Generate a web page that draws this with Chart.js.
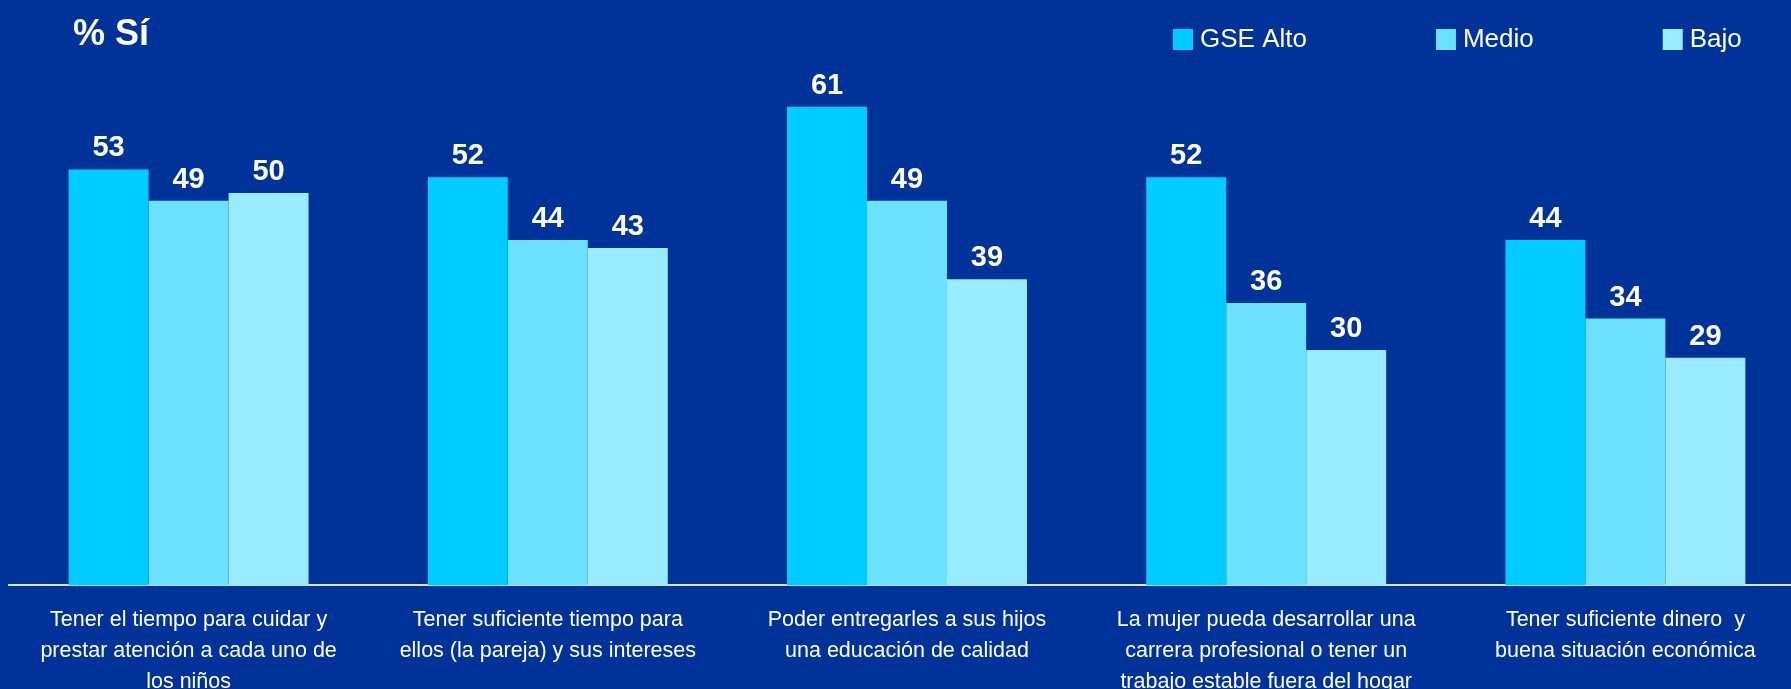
<!DOCTYPE html>
<html>
<head>
<meta charset="utf-8">
<script src="https://cdn.jsdelivr.net/npm/chart.js@4/dist/chart.umd.min.js"></script>
<style>
    html, body { margin: 0; padding: 0; background: #003399; }
    #wrap { position: relative; width: 1791px; height: 689px; overflow: hidden; background: #003399; }
    #chart_box { position: absolute; left: 0; top: 0; width: 1815px; height: 717px; }
</style>
</head>
<body>
<div id="wrap">
    <div id="chart_box"><canvas id="si_chart"></canvas></div>
</div>
<script>
const categories = [
    ['Tener el tiempo para cuidar y', 'prestar atención a cada uno de', 'los niños'],
    ['Tener suficiente tiempo para', 'ellos (la pareja) y sus intereses'],
    ['Poder entregarles a sus hijos', 'una educación de calidad'],
    ['La mujer pueda desarrollar una', 'carrera profesional o tener un', 'trabajo estable fuera del hogar'],
    ['Tener suficiente dinero  y', 'buena situación económica']
];
const seriesNames = ['GSE Alto', 'Medio', 'Bajo'];
const alto = [53, 52, 61, 52, 44];
const medio = [49, 44, 49, 36, 34];
const bajo = [50, 43, 39, 30, 29];
const barColors = ['#00ccff', '#6be0ff', '#99ecff'];

const FONT = 'Arial, "Liberation Sans", sans-serif';

// value labels above each bar
const valueLabels = {
    id: 'valueLabels',
    afterDatasetsDraw(chart) {
        const ctx = chart.ctx;
        ctx.save();
        ctx.fillStyle = '#ffffff';
        ctx.font = 'bold 29px ' + FONT;
        ctx.textAlign = 'center';
        ctx.textBaseline = 'alphabetic';
        chart.data.datasets.forEach((ds, i) => {
            chart.getDatasetMeta(i).data.forEach((bar, j) => {
                ctx.fillText(ds.data[j], bar.x, bar.y - 13);
            });
        });
        ctx.restore();
    }
};

// title and legend in the top band
const topBand = {
    id: 'topBand',
    afterDraw(chart) {
        const ctx = chart.ctx;
        ctx.save();
        ctx.fillStyle = '#ffffff';
        ctx.font = 'bold 36px ' + FONT;
        ctx.textBaseline = 'alphabetic';
        ctx.fillText('% Sí', 73, 45);

        ctx.font = '26px ' + FONT;
        ctx.textBaseline = 'middle';
        let x = 1173;
        chart.data.datasets.forEach(ds => {
            ctx.fillStyle = ds.backgroundColor;
            ctx.fillRect(x, 29, 20, 21);
            ctx.fillStyle = '#ffffff';
            ctx.fillText(ds.label, x + 27, 40);
            x += 27 + ctx.measureText(ds.label).width + 129;
        });
        ctx.restore();
    }
};

new Chart(document.getElementById('si_chart').getContext('2d'), {
    type: 'bar',
    data: {
        labels: categories,
        datasets: [alto, medio, bajo].map((values, i) => ({
            label: seriesNames[i],
            data: values,
            backgroundColor: barColors[i],
            borderWidth: 0,
            barPercentage: 1,
            categoryPercentage: 0.668
        }))
    },
    options: {
        responsive: true,
        maintainAspectRatio: false,
        animation: false,
        layout: {
            padding: { left: 9, right: 10, top: 36, bottom: 0 }
        },
        plugins: {
            legend: { display: false },
            tooltip: { enabled: false }
        },
        scales: {
            x: {
                grid: { display: false, drawTicks: false },
                border: { display: true, color: '#dde4f5', width: 2 },
                ticks: {
                    color: '#ffffff',
                    font: { family: FONT, size: 21.5, lineHeight: 1.45 },
                    padding: 19,
                    maxRotation: 0,
                    autoSkip: false
                }
            },
            y: {
                display: false,
                min: 0,
                max: 70
            }
        }
    },
    plugins: [valueLabels, topBand]
});
</script>
</body>
</html>
